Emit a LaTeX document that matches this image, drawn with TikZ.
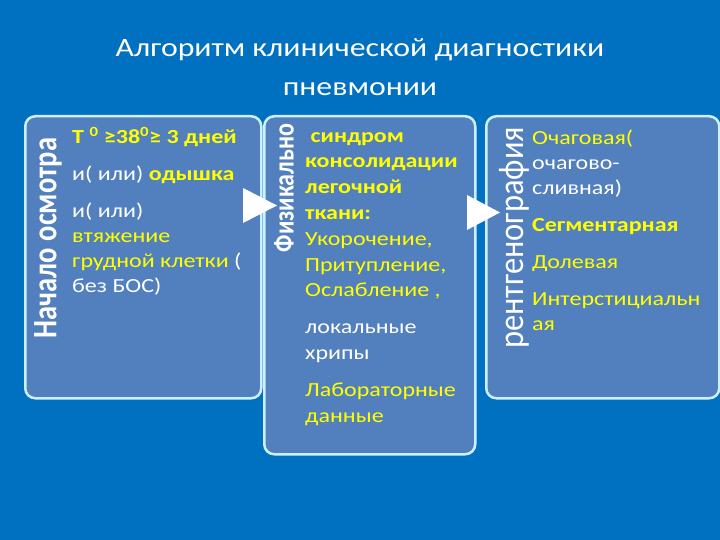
\documentclass[tikz,border=0pt]{standalone}
\usepackage{graphicx}
\usepackage{fontspec}
\setmainfont{Carlito}[FakeStretch=1.2]
\newfontfamily\sidefont{Carlito}
\usetikzlibrary{positioning}

\definecolor{slideblue}{RGB}{0,112,192}
\definecolor{panelblue}{RGB}{82,128,190}
\definecolor{panelrim}{RGB}{205,240,255}
\definecolor{hiyellow}{RGB}{255,255,0}
\newcommand{\ylw}[1]{\textcolor{hiyellow}{#1}}
\newcommand{\ylwb}[1]{\textcolor{hiyellow}{\bfseries #1}}
\newcommand{\fatside}[1]{\scalebox{1}[1.2]{#1}}

\begin{document}
\begin{tikzpicture}[x=1pt,y=-1pt,
	panel/.style={draw=panelrim, line width=2.5pt, fill=panelblue, rounded corners=10pt, anchor=north west, inner sep=0pt},
	body/.style={text=white, font=\fontsize{20}{25}\selectfont, align=left, inner sep=0pt, anchor=north west},
	sidelabel/.style={rotate=90, text=white, inner sep=0pt}]
		\fill[slideblue] (0,0) rectangle (720,540);
		\useasboundingbox (0,0) rectangle (720,540);
		
		\node[text=white, font=\fontsize{26.5}{39}\selectfont, align=center] (title) at (360,67)
		{Алгоритм клинической диагностики\\пневмонии};
		
		% three panels
		\node[panel, minimum width=236pt, minimum height=282pt] (osm) at (24,115) {};
		\node[panel, minimum width=211pt, minimum height=338pt] (fiz) at (263,115) {};
		\node[panel, minimum width=233pt, minimum height=282pt] (rtg) at (485,115) {};
		
		% arrows between panels
		\fill[white] (243,188) -- (277,205.5) -- (243,223) -- cycle;
		\fill[white] (467,195) -- (500,212.5) -- (467,230) -- cycle;
		
		\node[sidelabel, font=\fontsize{28.5}{28.5}\sidefont\bfseries] (lblosm) at (48,238) {\fatside{Начало осмотра}};
		\node[sidelabel, font=\fontsize{24}{24}\sidefont\bfseries] (lblfiz) at (284,188) {\fatside{Физикально}};
		\node[sidelabel, font=\fontsize{32.5}{32.5}\sidefont] (lblrtg) at (514,238) {\scalebox{1}[1.1]{рентгенография}};
		
		\node[body] (txtosm) at (72,127) {\ylwb{Т \textsuperscript{0} ≥38\textsuperscript{0}≥ 3 дней}\\[12pt]
			и( или) \ylwb{одышка}\\[12pt]
			и( или)\\
			\ylw{втяжение}\\
			\ylw{грудной клетки} (\\
			без БОС)};
		\node[body, font=\fontsize{20}{25.8}\selectfont] (txtfiz) at (305,132) {\ylwb{\ синдром}\\
			\ylwb{консолидации}\\
			\ylwb{легочной}\\
			\ylwb{ткани:}\\
			\ylw{Укорочение,}\\
			\ylw{Притупление,}\\
			\ylw{Ослабление ,}\\[11pt]
			локальные\\
			хрипы\\[11pt]
			\ylw{Лабораторные}\\
			\ylw{данные}};
		\node[body] (txtrtg) at (532,130) {\ylw{Очаговая(}\\
			очагово-\\
			сливная)\\[12pt]
			\ylwb{Сегментарная}\\[12pt]
			\ylw{Долевая}\\[12pt]
			\ylw{Интерстициальн}\\
			\ylw{ая}};
		
		\end{tikzpicture}
\end{document}
